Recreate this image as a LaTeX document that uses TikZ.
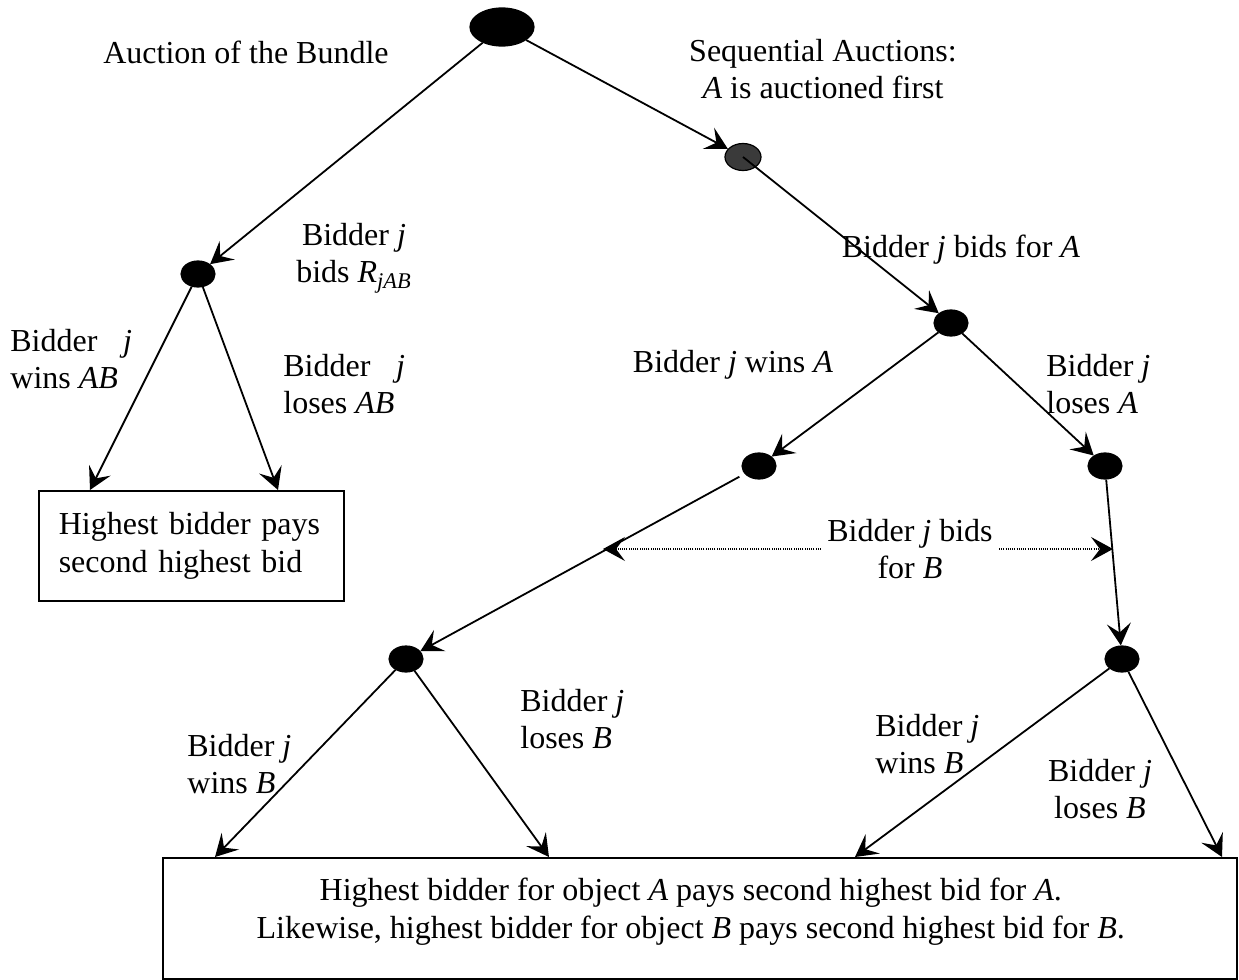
\documentclass[tikz,border=0pt]{standalone}
\usepackage{fontspec}
\setmainfont{Liberation Serif}
\usetikzlibrary{arrows.meta,shapes.geometric,calc}
\definecolor{seqgray}{HTML}{3A3A3A}
\begin{document}
\begin{tikzpicture}[x=0.5pt,y=-0.5pt,
  every node/.style={font=\fontsize{16}{18.75}\selectfont},
  dot/.style={ellipse,draw,line width=0.6pt,fill=black,minimum width=17pt,minimum height=13pt,inner sep=0pt},
  lbl/.style={inner sep=0pt},
  box/.style={draw,line width=0.8pt,rectangle},
  arr/.style={-{Stealth[length=11pt,width=12pt,inset=4.5pt]},line width=0.9pt},
  dotarr/.style={-{Stealth[length=11pt,width=12pt,inset=4.5pt]},line width=0.6pt,dash pattern=on 0.5pt off 0.6pt}
]
\useasboundingbox (0,0) rectangle (1239,980);

% decision nodes
\node[dot, minimum width=32pt, minimum height=19pt] (root) at (502,27) {};
\node[dot, fill=seqgray, minimum width=18pt, minimum height=13.5pt] (seq) at (743,157) {};
\node[dot] (L) at (198,274) {};
\node[dot] (R) at (951,323) {};
\node[dot] (RA) at (759,466) {};
\node[dot] (RB) at (1105,466) {};
\node[dot] (LL) at (406,659) {};
\node[dot] (RBB) at (1122,659) {};

% outcome boxes
\node[box, anchor=north west, minimum width=152.5pt, minimum height=55pt,
      text width=132.5pt, inner xsep=10pt, align=left] (lbox) at (38,490)
      {\makebox[\linewidth][s]{Highest bidder pays}\\second highest bid};
\node[box, anchor=north west, minimum width=537pt, minimum height=60.5pt, align=center] (bbox) at (162,857)
      {\hspace*{-9pt}Highest bidder for object \textit{A} pays second highest bid for \textit{A}.\\
       \hspace*{-9pt}Likewise, highest bidder for object \textit{B} pays second highest bid for \textit{B}.\rule[-10pt]{0pt}{1pt}};

% labels
\node[lbl] (tBundle) at (246,52) {Auction of the Bundle};
\node[lbl, align=center] (tSeq) at (823,69) {Sequential Auctions:\\\textit{A} is auctioned first};
\node[lbl, align=center] (tBidsR) at (354,258) {Bidder \textit{j}\\bids \textit{R}\textsubscript{\textit{jAB}}};
\node[lbl] (tBidsA) at (961,250) {Bidder \textit{j} bids for \textit{A}};
\node[lbl] (tWinsA) at (733,365) {Bidder \textit{j} wins \textit{A}};
\node[lbl, align=left, anchor=west] (tLosesA) at (1046,384) {Bidder \textit{j}\\loses \textit{A}};
\node[lbl, align=center] (tBidsB) at (910,549) {Bidder \textit{j} bids\\for \textit{B}};
\node[lbl, align=left, anchor=west] (tWinsAB) at (10,359) {Bidder\hspace{0.8em}\textit{j}\\wins \textit{AB}};
\node[lbl, align=left, anchor=west] (tLosesAB) at (283,384) {Bidder\hspace{0.8em}\textit{j}\\loses \textit{AB}};
\node[lbl, align=left, anchor=west] (tWinsB1) at (187,764) {Bidder \textit{j}\\wins \textit{B}};
\node[lbl, align=left, anchor=west] (tLosesB1) at (520,719) {Bidder \textit{j}\\loses \textit{B}};
\node[lbl, align=left, anchor=west] (tWinsB2) at (875,744) {Bidder \textit{j}\\wins \textit{B}};
\node[lbl, align=center] (tLosesB2) at (1100,789) {Bidder \textit{j}\\loses \textit{B}};

% connectors
\draw[arr] (root) -- (L);
\draw[arr] (root) -- (seq);
\draw[arr] (seq.center) -- (R);
\draw[arr] (R) -- (RA);
\draw[arr] (R) -- (RB);
\draw[arr, shorten <=3pt] (RA) -- (LL);
\draw[arr] (RB) -- (RBB);
\draw[arr] (L) -- ([xshift=26pt]lbox.north west);
\draw[arr] (L) -- ([xshift=120pt]lbox.north west);
\draw[arr] (LL) -- ([xshift=26.5pt]bbox.north west);
\draw[arr] (LL) -- ([xshift=193.5pt]bbox.north west);
\draw[arr] (RBB) -- ([xshift=346.5pt]bbox.north west);
\draw[arr] (RBB) -- ([xshift=530pt]bbox.north west);

% dotted pointers
\coordinate (pA) at (603,549);
\coordinate (pB) at (1113,549);
\draw[dotarr] ([xshift=-3pt]tBidsB.west |- pA) -- (pA);
\draw[dotarr] ([xshift=3pt]tBidsB.east |- pB) -- (pB);
\end{tikzpicture}
\end{document}
